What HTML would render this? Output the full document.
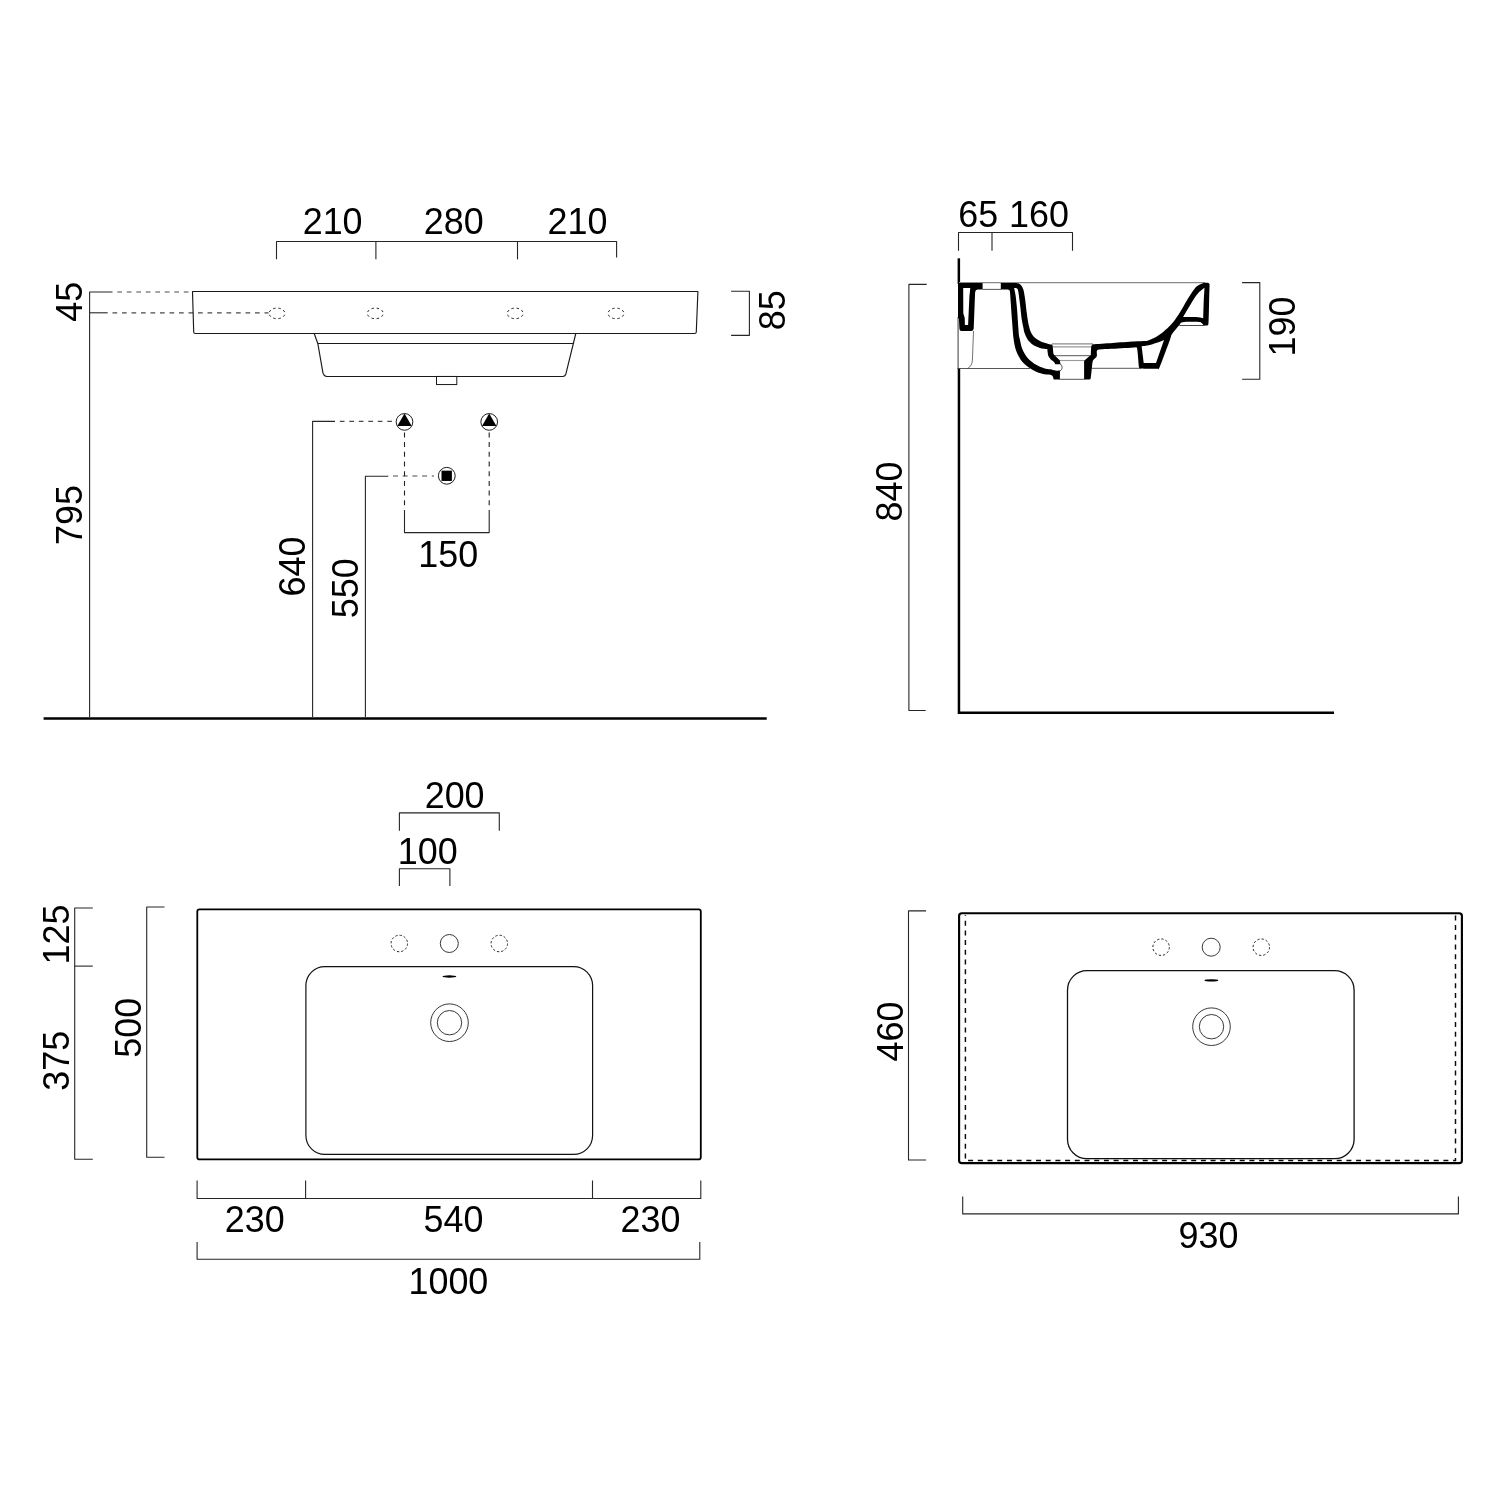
<!DOCTYPE html>
<html lang="en">
<head>
<meta charset="utf-8">
<title>Washbasin 1000 technical drawing</title>
<style>
html,body{margin:0;padding:0;background:#fff;}
body{width:1500px;height:1500px;overflow:hidden;}
svg{display:block;will-change:transform;}
text{font-family:"Liberation Sans",sans-serif;fill:#000;}
</style>
</head>
<body>
<svg width="1500" height="1500" viewBox="0 0 1500 1500">
<rect width="1500" height="1500" fill="#fff"/>
<g id="front">
<line x1="43.6" y1="718.55" x2="766.7" y2="718.55" stroke="#000" stroke-width="2.6" stroke-linecap="butt"/>
<path d="M276.5 259.3 L276.5 241.5 L616.6 241.5 L616.6 257.4" fill="none" stroke="#262626" stroke-width="1.1" stroke-linejoin="round"/>
<line x1="375.9" y1="241.5" x2="375.9" y2="259.3" stroke="#262626" stroke-width="1.1" stroke-linecap="butt"/>
<line x1="517.5" y1="241.5" x2="517.5" y2="259.4" stroke="#262626" stroke-width="1.1" stroke-linecap="butt"/>
<text transform="translate(332.6 233.8) scale(0.96 1)" text-anchor="middle" font-size="37.4">210</text>
<text transform="translate(453.7 233.8) scale(0.96 1)" text-anchor="middle" font-size="37.4">280</text>
<text transform="translate(577.4 233.8) scale(0.96 1)" text-anchor="middle" font-size="37.4">210</text>
<path d="M112.5 291.95 L89.6 291.95 L89.6 717" fill="none" stroke="#262626" stroke-width="1.1" stroke-linejoin="round"/>
<line x1="112.5" y1="291.95" x2="192.5" y2="291.95" stroke="#4a4a4a" stroke-width="1.1" stroke-linecap="butt" stroke-dasharray="4.7 4.8" stroke-dashoffset="4.7"/>
<line x1="89.6" y1="312.8" x2="107.7" y2="312.8" stroke="#262626" stroke-width="1.1" stroke-linecap="butt"/>
<line x1="107.7" y1="312.9" x2="268.5" y2="312.9" stroke="#4a4a4a" stroke-width="1.1" stroke-linecap="butt" stroke-dasharray="4.7 4.8" stroke-dashoffset="4.7"/>
<text transform="translate(82 301.8) rotate(-90) scale(0.96 1)" text-anchor="middle" font-size="37.4">45</text>
<text transform="translate(82 515.1) rotate(-90) scale(0.96 1)" text-anchor="middle" font-size="37.4">795</text>
<path d="M192.5 291.5 L697.9 291.5 L696.3 332 Q696.2 333.5 694.8 333.5 L195.2 333.5 Q193.8 333.5 193.7 332 Z" fill="none" stroke="#1a1a1a" stroke-width="1.15" stroke-linejoin="round" />
<ellipse cx="277" cy="313.4" rx="7.9" ry="5.3" fill="none" stroke="#111" stroke-width="0.95" pathLength="80" stroke-dasharray="4.6 5.4" stroke-dashoffset="7.3"/>
<ellipse cx="375.3" cy="313.4" rx="7.9" ry="5.3" fill="none" stroke="#111" stroke-width="0.95" pathLength="80" stroke-dasharray="4.6 5.4" stroke-dashoffset="7.3"/>
<ellipse cx="515.2" cy="313.4" rx="7.9" ry="5.3" fill="none" stroke="#111" stroke-width="0.95" pathLength="80" stroke-dasharray="4.6 5.4" stroke-dashoffset="7.3"/>
<ellipse cx="616" cy="313.4" rx="7.9" ry="5.3" fill="none" stroke="#111" stroke-width="0.95" pathLength="80" stroke-dasharray="4.6 5.4" stroke-dashoffset="7.3"/>
<path d="M314.2 333.5 L317.8 343.45 L322.8 372.2 Q323.6 376.45 326.9 376.45 L562.8 376.45 Q565.2 376.45 565.9 373.9 L575.8 333.5" fill="none" stroke="#1a1a1a" stroke-width="1.15" stroke-linejoin="round" />
<line x1="317.8" y1="343.45" x2="573.5" y2="343.45" stroke="#1a1a1a" stroke-width="1.15" stroke-linecap="butt"/>
<rect x="436.5" y="376.45" width="20.3" height="8.1" fill="none" stroke="#1a1a1a" stroke-width="1"/>
<path d="M731.1 291.3 L749.4 291.3 L749.4 335.4 L731.1 335.4" fill="none" stroke="#262626" stroke-width="1.1" stroke-linejoin="round"/>
<text transform="translate(785.2 310.3) rotate(-90) scale(0.96 1)" text-anchor="middle" font-size="37.4">85</text>
<path d="M335 421.4 L312.6 421.4 L312.6 717" fill="none" stroke="#262626" stroke-width="1.1" stroke-linejoin="round"/>
<line x1="335" y1="421.4" x2="396" y2="421.4" stroke="#4a4a4a" stroke-width="1.1" stroke-linecap="butt" stroke-dasharray="4.7 4.8" stroke-dashoffset="4.7"/>
<text transform="translate(304.9 566.6) rotate(-90) scale(0.96 1)" text-anchor="middle" font-size="37.4">640</text>
<path d="M388 476.2 L365.4 476.2 L365.4 717" fill="none" stroke="#262626" stroke-width="1.1" stroke-linejoin="round"/>
<line x1="388" y1="476.0" x2="434" y2="476.0" stroke="#4a4a4a" stroke-width="1.1" stroke-linecap="butt" stroke-dasharray="5 4.7" stroke-dashoffset="4.7"/>
<text transform="translate(357.9 588.3) rotate(-90) scale(0.96 1)" text-anchor="middle" font-size="37.4">550</text>
<line x1="404.5" y1="427.4" x2="404.5" y2="510" stroke="#222" stroke-width="1.1" stroke-linecap="butt" stroke-dasharray="5 4.7" stroke-dashoffset="4.7"/>
<line x1="489.2" y1="427.4" x2="489.2" y2="510" stroke="#222" stroke-width="1.1" stroke-linecap="butt" stroke-dasharray="5 4.7" stroke-dashoffset="4.7"/>
<path d="M404.5 510 L404.5 532.6 L489.2 532.6 L489.2 510" fill="none" stroke="#262626" stroke-width="1.1" stroke-linejoin="round"/>
<text transform="translate(448.3 566.8) scale(0.96 1)" text-anchor="middle" font-size="37.4">150</text>
<circle cx="404.5" cy="421.9" r="8.35" fill="#fff" stroke="#111" stroke-width="0.95"/>
<path d="M404.5 413.60 L411.70 426.10 L397.30 426.10 Z" fill="#000"/>
<circle cx="489.2" cy="421.9" r="8.35" fill="#fff" stroke="#111" stroke-width="0.95"/>
<path d="M489.2 413.60 L496.40 426.10 L482.00 426.10 Z" fill="#000"/>
<circle cx="446.8" cy="475.8" r="8.4" fill="#fff" stroke="#111" stroke-width="0.95"/>
<rect x="441.5" y="470.65" width="10.4" height="10.3" fill="#000"/>
</g>
<g id="side">
<path d="M958.5 250.8 L958.5 232.5 L1072.5 232.5 L1072.5 250.8" fill="none" stroke="#262626" stroke-width="1.1" stroke-linejoin="round"/>
<line x1="992" y1="232.5" x2="992" y2="250.8" stroke="#262626" stroke-width="1.1" stroke-linecap="butt"/>
<text transform="translate(978.2 226.9) scale(0.96 1)" text-anchor="middle" font-size="37.4">65</text>
<text transform="translate(1038.9 226.9) scale(0.96 1)" text-anchor="middle" font-size="37.4">160</text>
<path d="M926.7 284.4 L908.9 284.4 L908.9 710.5 L925.7 710.5" fill="none" stroke="#262626" stroke-width="1.1" stroke-linejoin="round"/>
<text transform="translate(901.8 491.6) rotate(-90) scale(0.96 1)" text-anchor="middle" font-size="37.4">840</text>
<path d="M1242.1 282.6 L1259.8 282.6 L1259.8 379.3 L1242.1 379.3" fill="none" stroke="#262626" stroke-width="1.1" stroke-linejoin="round"/>
<text transform="translate(1295 326.6) rotate(-90) scale(0.96 1)" text-anchor="middle" font-size="37.4">190</text>
<line x1="958.85" y1="258.3" x2="958.85" y2="284" stroke="#000" stroke-width="2.5" stroke-linecap="butt"/>
<path d="M958.95 368 L958.95 712.8 L1334 712.8" fill="none" stroke="#000" stroke-width="2.5" stroke-linejoin="miter"/>
<line x1="959" y1="282.7" x2="1205" y2="282.7" stroke="#8a8a8a" stroke-width="1.2" stroke-linecap="butt"/>
<line x1="982.6" y1="289.4" x2="1001" y2="289.4" stroke="#444" stroke-width="0.9" stroke-linecap="butt"/>
<line x1="958.1" y1="317" x2="958.1" y2="368.5" stroke="#666" stroke-width="1.3" stroke-linecap="butt"/>
<path d="M973.5 331 L972.4 360 Q972.2 366 967.5 368.5" fill="none" stroke="#333" stroke-width="0.7" stroke-linejoin="round" />
<line x1="957.5" y1="368.5" x2="1030" y2="368.5" stroke="#444" stroke-width="0.9" stroke-linecap="butt"/>
<line x1="1091.5" y1="368.3" x2="1141" y2="368.3" stroke="#444" stroke-width="0.9" stroke-linecap="butt"/>
<line x1="1052" y1="343.9" x2="1093" y2="343.9" stroke="#8a8a8a" stroke-width="1.2" stroke-linecap="butt"/>
<line x1="1052.7" y1="346.9" x2="1091.3" y2="346.9" stroke="#999" stroke-width="1.1" stroke-linecap="butt"/>
<line x1="1055" y1="355.7" x2="1090.5" y2="355.7" stroke="#444" stroke-width="0.9" stroke-linecap="butt"/>
<line x1="1060" y1="360.5" x2="1084.3" y2="360.5" stroke="#999" stroke-width="1.1" stroke-linecap="butt"/>
<line x1="1059.5" y1="379.3" x2="1084.5" y2="379.3" stroke="#444" stroke-width="0.9" stroke-linecap="butt"/>
<line x1="1179.5" y1="325.5" x2="1204.5" y2="325.5" stroke="#333" stroke-width="0.9" stroke-linecap="butt"/>
<path d="M958 283 L982.6 283 L982.6 289.4 L977.6 289.6 Q975.3 289.8 975.1 292.6 L973.7 328.4 Q973.5 331 971.2 331 L961.4 331 Q959.5 331 959.4 328.5 L958.9 318.6 L958 317.9 Z M963.2 288 L970.3 288 L969.4 296.3 L968.1 325.1 L964.9 325.1 L964.7 317.7 L963.3 313.4 Z" fill="#000" fill-rule="evenodd"/>
<path d="M1000.8 283 L1016.6 283 C1017.02 283.13 1018.89 283.49 1019.6 283.9 C1020.31 284.31 1021.05 285.05 1021.6 285.9 C1022.15 286.75 1023.00 288.04 1023.5 289.9 C1024.00 291.76 1024.65 295.83 1025.1 299 C1025.55 302.17 1026.25 308.90 1026.7 312.3 C1027.15 315.70 1027.78 320.35 1028.3 323 C1028.82 325.65 1029.81 329.30 1030.4 331 C1031.00 332.70 1031.76 333.97 1032.5 335 C1033.24 336.03 1034.25 337.31 1035.6 338.3 C1036.95 339.29 1040.19 341.21 1042 342 C1043.81 342.79 1046.97 343.55 1048.4 343.9 C1049.83 344.25 1051.58 344.42 1052.1 344.5 C1052.18 344.75 1052.53 345.12 1052.7 346.3 C1052.87 347.48 1053.13 351.62 1053.3 352.8 C1053.47 353.98 1053.62 354.16 1053.9 354.6 C1054.18 355.04 1054.45 355.11 1055.3 355.9 C1056.15 356.69 1059.25 359.59 1059.9 360.2 L1060.4 364.2 L1060 370.6 L1059.9 379.4 L1053.7 379.4 C1053.57 378.97 1053.15 377.02 1052.8 376.4 C1052.45 375.78 1051.43 375.20 1051.2 375 C1050.28 374.90 1046.75 374.73 1044.7 374.3 C1042.65 373.88 1039.05 373.02 1036.7 372 C1034.35 370.98 1030.37 368.84 1028.1 367.1 C1025.83 365.36 1022.43 362.12 1020.7 359.7 C1018.97 357.28 1016.92 353.03 1015.9 350 C1014.88 346.97 1014.05 342.51 1013.5 338.3 C1012.95 334.09 1012.40 325.49 1012 320.3 C1011.60 315.12 1010.98 305.67 1010.7 301.7 C1010.42 297.73 1010.18 293.92 1010 292.3 C1009.82 290.69 1009.74 290.70 1009.4 290.3 C1009.06 289.90 1007.86 289.61 1007.6 289.5 L1000.8 289.4 L1000.8 283 Z M1014.1 288.1 C1014.44 288.13 1015.93 287.96 1016.5 288.3 C1017.07 288.64 1017.65 288.60 1018.1 290.5 C1018.55 292.40 1019.16 297.48 1019.7 301.7 C1020.24 305.92 1021.36 316.53 1021.9 320.3 C1022.44 324.07 1023.15 326.57 1023.5 328.3 C1023.85 330.03 1023.82 330.93 1024.4 332.5 C1024.98 334.07 1026.40 337.67 1027.6 339.4 C1028.80 341.13 1031.16 343.50 1032.9 344.7 C1034.64 345.90 1037.86 347.29 1039.9 347.9 C1041.94 348.51 1046.25 348.84 1047.3 349 C1047.34 349.38 1047.44 350.72 1047.6 351.7 C1047.76 352.68 1047.90 354.77 1048.4 355.9 C1048.90 357.03 1050.35 358.86 1051.1 359.7 C1051.85 360.54 1053.11 361.16 1053.7 361.8 C1054.30 362.44 1055.07 363.86 1055.3 364.2 L1060.4 364.3 L1060 370.5 C1059.33 370.51 1056.65 370.77 1055.3 370.6 C1053.95 370.43 1052.09 369.64 1050.5 369.3 C1048.91 368.96 1046.21 368.88 1044.1 368.2 C1041.99 367.52 1037.94 365.94 1035.6 364.5 C1033.26 363.06 1029.48 360.20 1027.6 358 C1025.72 355.80 1023.43 351.79 1022.3 349 C1021.17 346.21 1020.08 340.28 1019.6 338.3 C1019.12 336.32 1019.07 336.42 1018.9 335 C1018.73 333.58 1018.65 331.88 1018.4 328.3 C1018.14 324.72 1017.48 314.23 1017.1 309.7 C1016.72 305.17 1016.12 299.36 1015.7 296.3 C1015.28 293.24 1014.33 289.26 1014.1 288.1 Z" fill="#000" fill-rule="evenodd"/>
<path d="M1059.9 363.9 C1062.6 364.6 1063 370 1059.9 370.9" fill="#fff" stroke="#222" stroke-width="0.8" stroke-linejoin="round" />
<path d="M1084.1 379.4 L1084.1 360.7 L1090.8 354.9 C1090.87 353.68 1091.00 347.82 1091.3 346.3 C1091.60 344.78 1092.67 344.50 1092.9 344.2 C1095.71 344.02 1106.88 343.28 1112.7 342.9 C1118.52 342.52 1129.33 341.77 1134 341.5 C1138.67 341.23 1143.72 341.14 1145.7 341 C1147.68 340.86 1146.54 341.07 1148 340.5 C1149.46 339.93 1153.73 338.32 1156 337 C1158.27 335.68 1162.03 332.79 1164 331.2 C1165.97 329.61 1168.47 327.25 1169.9 325.8 C1171.33 324.36 1172.67 322.91 1174.1 321 C1175.53 319.09 1178.03 315.49 1180 312.3 C1181.97 309.11 1185.96 301.81 1188 298.5 C1190.04 295.19 1192.88 290.80 1194.4 288.9 C1195.92 287.00 1197.34 285.98 1198.7 285.1 C1200.06 284.22 1203.25 283.04 1204 282.7 C1204.62 282.73 1207.61 282.63 1208.4 282.9 C1209.19 283.17 1209.43 284.36 1209.6 284.6 C1209.53 287.02 1209.26 296.26 1209.1 301.7 C1208.94 307.14 1208.77 319.64 1208.5 323 C1208.23 326.36 1207.38 325.06 1207.2 325.4 L1204 325.4 C1203.62 325.02 1202.05 323.20 1201.3 322.7 C1200.55 322.20 1201.34 321.97 1198.7 321.9 C1196.07 321.83 1185.42 321.77 1182.7 322.2 C1179.98 322.62 1181.02 323.21 1179.5 324.9 C1177.98 326.59 1173.36 331.98 1172 334.1 C1170.64 336.23 1171.64 335.22 1169.9 339.9 C1168.16 344.57 1161.37 363.02 1159.7 367.1 C1158.03 371.18 1158.33 368.47 1158.1 368.7 C1155.66 368.67 1143.63 368.87 1140.9 368.5 C1138.17 368.13 1139.10 366.44 1138.8 366.1 C1138.57 363.68 1137.72 351.65 1137.2 349 C1136.68 346.35 1135.40 347.63 1135.1 347.4 C1131.93 347.58 1117.84 348.40 1112.7 348.7 C1107.56 349.00 1101.07 349.07 1098.8 349.5 C1096.53 349.93 1097.00 351.39 1096.7 351.7 C1096.70 352.38 1097.24 355.23 1096.7 356.5 C1096.16 357.77 1093.58 359.11 1092.9 360.7 C1092.22 362.29 1092.21 365.21 1091.9 367.7 C1091.59 370.19 1091.07 376.64 1090.7 378.3 C1090.33 379.96 1089.50 379.24 1089.3 379.4 L1084.1 379.4 Z M1141.6 346.3 C1142.89 346.07 1148.43 345.22 1150.7 344.7 C1152.97 344.18 1155.72 343.28 1157.6 342.6 C1159.48 341.92 1163.09 340.28 1164 339.9 L1156 363.1 L1143.7 363.1 L1141.6 346.3 Z M1204.5 287.8 C1203.68 288.48 1200.29 290.86 1198.7 292.6 C1197.11 294.34 1195.50 296.66 1193.3 300.1 C1191.10 303.54 1184.63 314.52 1183.2 316.9 C1185.01 316.93 1193.17 316.92 1196 317.1 C1198.83 317.28 1202.18 318.04 1203.2 318.2 C1203.27 315.86 1203.52 306.01 1203.7 301.7 C1203.88 297.39 1204.39 289.77 1204.5 287.8 Z" fill="#000" fill-rule="evenodd"/>
</g>
<g id="top">
<path d="M399.4 830.7 L399.4 812.9 L499.3 812.9 L499.3 830.7" fill="none" stroke="#262626" stroke-width="1.1" stroke-linejoin="round"/>
<text transform="translate(454.6 807.8) scale(0.96 1)" text-anchor="middle" font-size="37.4">200</text>
<path d="M399.4 886.1 L399.4 868.7 L449.9 868.7 L449.9 886.1" fill="none" stroke="#262626" stroke-width="1.1" stroke-linejoin="round"/>
<text transform="translate(427.8 864.1) scale(0.96 1)" text-anchor="middle" font-size="37.4">100</text>
<path d="M92.8 908 L74.7 908 L74.7 1159.2 L92.8 1159.2" fill="none" stroke="#262626" stroke-width="1.1" stroke-linejoin="round"/>
<line x1="74.7" y1="966.1" x2="92.8" y2="966.1" stroke="#262626" stroke-width="1.1" stroke-linecap="butt"/>
<text transform="translate(69.3 934.5) rotate(-90) scale(0.96 1)" text-anchor="middle" font-size="37.4">125</text>
<text transform="translate(69.3 1060.7) rotate(-90) scale(0.96 1)" text-anchor="middle" font-size="37.4">375</text>
<path d="M164.5 907 L146.7 907 L146.7 1157.3 L164.5 1157.3" fill="none" stroke="#262626" stroke-width="1.1" stroke-linejoin="round"/>
<text transform="translate(141.3 1027.8) rotate(-90) scale(0.96 1)" text-anchor="middle" font-size="37.4">500</text>
<rect x="197.3" y="909.4" width="503.5" height="250" rx="2.2" ry="2.2" fill="none" stroke="#000" stroke-width="1.8"/>
<rect x="305.9" y="966.6" width="286.7" height="187.8" rx="19" ry="19" fill="none" stroke="#111" stroke-width="1.2"/>
<circle cx="399.3" cy="943.5" r="8.25" fill="none" stroke="#111" stroke-width="0.9" stroke-dasharray="2.3 2.02"/>
<circle cx="499.3" cy="943.5" r="8.25" fill="none" stroke="#111" stroke-width="0.9" stroke-dasharray="2.3 2.02"/>
<circle cx="449.3" cy="943.5" r="9" fill="none" stroke="#222" stroke-width="0.9"/>
<ellipse cx="449.4" cy="976.5" rx="6.9" ry="1.15" fill="#000"/>
<circle cx="449.5" cy="1022.7" r="18.8" fill="none" stroke="#222" stroke-width="0.9"/>
<circle cx="449.5" cy="1022.7" r="12.2" fill="none" stroke="#222" stroke-width="0.9"/>
<path d="M197.1 1180.5 L197.1 1198.5 L700.8 1198.5 L700.8 1180.5" fill="none" stroke="#262626" stroke-width="1.1" stroke-linejoin="round"/>
<line x1="305.6" y1="1180.5" x2="305.6" y2="1198.5" stroke="#262626" stroke-width="1.1" stroke-linecap="butt"/>
<line x1="592.5" y1="1180.5" x2="592.5" y2="1198.5" stroke="#262626" stroke-width="1.1" stroke-linecap="butt"/>
<text transform="translate(254.7 1231.8) scale(0.96 1)" text-anchor="middle" font-size="37.4">230</text>
<text transform="translate(453.5 1231.8) scale(0.96 1)" text-anchor="middle" font-size="37.4">540</text>
<text transform="translate(650.5 1231.8) scale(0.96 1)" text-anchor="middle" font-size="37.4">230</text>
<path d="M197.1 1241.9 L197.1 1259.3 L699.8 1259.3 L699.8 1241.9" fill="none" stroke="#262626" stroke-width="1.1" stroke-linejoin="round"/>
<text transform="translate(448.4 1293.8) scale(0.96 1)" text-anchor="middle" font-size="37.4">1000</text>
</g>
<g id="top2">
<path d="M926.1 910.9 L908.5 910.9 L908.5 1160 L926.1 1160" fill="none" stroke="#262626" stroke-width="1.1" stroke-linejoin="round"/>
<text transform="translate(902.7 1031.5) rotate(-90) scale(0.96 1)" text-anchor="middle" font-size="37.4">460</text>
<rect x="959.1" y="913.2" width="502.8" height="249.9" rx="2.7" ry="2.7" fill="none" stroke="#000" stroke-width="2.15"/>
<path d="M965.4 915.2 L965.4 1160.5 L1455.5 1160.5 L1455.5 915.2" fill="none" stroke="#0a0a0a" stroke-width="1.45" stroke-dasharray="5 4.7" stroke-dashoffset="4.2"/>
<rect x="1067.5" y="970.7" width="286.6" height="188" rx="19.5" ry="19.5" fill="none" stroke="#111" stroke-width="1.3"/>
<circle cx="1161.1" cy="947.2" r="8.25" fill="none" stroke="#111" stroke-width="0.9" stroke-dasharray="2.3 2.02"/>
<circle cx="1261.3" cy="947.2" r="8.25" fill="none" stroke="#111" stroke-width="0.9" stroke-dasharray="2.3 2.02"/>
<circle cx="1211.2" cy="947.2" r="9" fill="none" stroke="#222" stroke-width="0.9"/>
<ellipse cx="1211.4" cy="980.4" rx="6.9" ry="1.15" fill="#000"/>
<circle cx="1211.5" cy="1026.7" r="18.8" fill="none" stroke="#222" stroke-width="0.9"/>
<circle cx="1211.5" cy="1026.7" r="12.2" fill="none" stroke="#222" stroke-width="0.9"/>
<path d="M962.7 1196.5 L962.7 1213.9 L1458.4 1213.9 L1458.4 1196.5" fill="none" stroke="#262626" stroke-width="1.1" stroke-linejoin="round"/>
<text transform="translate(1208.4 1247.6) scale(0.96 1)" text-anchor="middle" font-size="37.4">930</text>
</g>
</svg>
</body>
</html>
